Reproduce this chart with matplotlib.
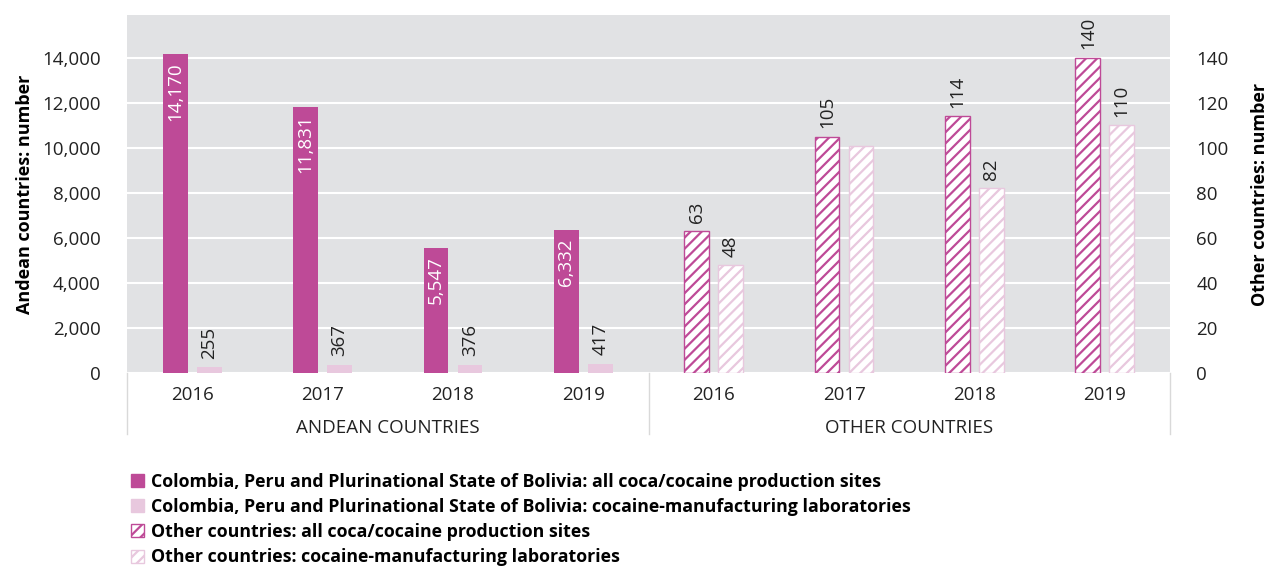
import matplotlib.pyplot as plt
from matplotlib.patches import Patch
from matplotlib.transforms import blended_transform_factory

plt.rcParams['font.family'] = ['Open Sans', 'DejaVu Sans']
plt.rcParams['hatch.linewidth'] = 1.6

years = ["2016", "2017", "2018", "2019"]
groups = ["ANDEAN COUNTRIES", "OTHER COUNTRIES"]
andean_sites = [14170, 11831, 5547, 6332]
andean_labs = [255, 367, 376, 417]
other_sites = [63, 105, 114, 140]
other_labs = [48, 101, 82, 110]
other_labs_text = ["48", "", "82", "110"]

dark = "#BE4A97"
light = "#E8C8DE"
bg = "#E1E2E4"
txt = "#222222"
fs = 13.5

fig = plt.figure(figsize=(12.7, 5.68), dpi=100)
ax = fig.add_axes([127 / 1270, 195 / 568, 1043 / 1270, 358 / 568])
ax2 = ax.twinx()

w = 0.19
off = 0.13
xa = [0, 1, 2, 3]
xo = [4, 5, 6, 7]

ax.bar([x - off for x in xa], andean_sites, w, color=dark, zorder=3)
ax.bar([x + off for x in xa], andean_labs, w, color=light, zorder=3)
ax2.bar([x - off for x in xo], other_sites, w, color="white", edgecolor=dark,
        hatch="///", linewidth=1.0, zorder=3)
ax2.bar([x + off for x in xo], other_labs, w, color="white", edgecolor=light,
        hatch="///", linewidth=1.0, zorder=3)

# value labels
for x, v in zip(xa, andean_sites):
    ax.annotate(f"{v:,}", (x - off, v), xytext=(0, -6), textcoords="offset points",
                rotation=90, ha="center", va="top", color="white", fontsize=fs)
for x, v in zip(xa, andean_labs):
    ax.annotate(f"{v:,}", (x + off, v), xytext=(0, 6), textcoords="offset points",
                rotation=90, ha="center", va="bottom", color=txt, fontsize=fs)
for x, v in zip(xo, other_sites):
    ax2.annotate(f"{v}", (x - off, v), xytext=(0, 6), textcoords="offset points",
                 rotation=90, ha="center", va="bottom", color=txt, fontsize=fs)
for x, v, t in zip(xo, other_labs, other_labs_text):
    ax2.annotate(t, (x + off, v), xytext=(0, 6), textcoords="offset points",
                 rotation=90, ha="center", va="bottom", color=txt, fontsize=fs)

ax.set_xlim(-0.5, 7.5)
ax.set_ylim(0, 15900)
ax2.set_ylim(0, 159)
ax.set_facecolor(bg)
ax.set_yticks(range(0, 16000, 2000))
ax.set_yticklabels([f"{v:,}" for v in range(0, 16000, 2000)])
ax2.set_yticks(range(0, 160, 20))
ax.grid(axis="y", color="white", linewidth=1.5, zorder=0)
ax.set_axisbelow(True)
for a in (ax, ax2):
    for s in a.spines.values():
        s.set_visible(False)
    a.tick_params(length=0, labelsize=fs, colors=txt)
ax.tick_params(axis="y", pad=19)
ax2.tick_params(axis="y", pad=19)
ax.set_xticks(range(8))
ax.set_xticklabels(years + years)
ax.tick_params(axis="x", pad=9)

ax.set_ylabel("Andean countries: number", fontsize=13, fontweight="bold", labelpad=6)
ax2.set_ylabel("Other countries: number", fontsize=13, fontweight="bold", labelpad=16)

# group labels and separators below the axis
tr = blended_transform_factory(ax.transData, ax.transAxes)
for gx, g in zip([1.5, 5.5], groups):
    ax.text(gx, -0.155, g, transform=tr, ha="center", va="center", fontsize=fs, color=txt)
for sx in [-0.5, 3.5, 7.5]:
    ax.plot([sx, sx], [0, -0.17], transform=tr, color="#D9D9D9", linewidth=1, clip_on=False)

handles = [
    Patch(facecolor=dark, edgecolor=dark),
    Patch(facecolor=light, edgecolor=light),
    Patch(facecolor="white", edgecolor=dark, hatch="///"),
    Patch(facecolor="white", edgecolor=light, hatch="///"),
]
labels = [
    "Colombia, Peru and Plurinational State of Bolivia: all coca/cocaine production sites",
    "Colombia, Peru and Plurinational State of Bolivia: cocaine-manufacturing laboratories",
    "Other countries: all coca/cocaine production sites",
    "Other countries: cocaine-manufacturing laboratories",
]
fig.legend(handles, labels, loc="upper left", bbox_to_anchor=(122 / 1270, 1 - 464 / 568),
           frameon=False, prop={"weight": "bold", "size": 12.8}, handlelength=0.75,
           handleheight=0.75, handletextpad=0.4, labelspacing=0.4, borderpad=0)

fig.savefig("out.png", dpi=100)
